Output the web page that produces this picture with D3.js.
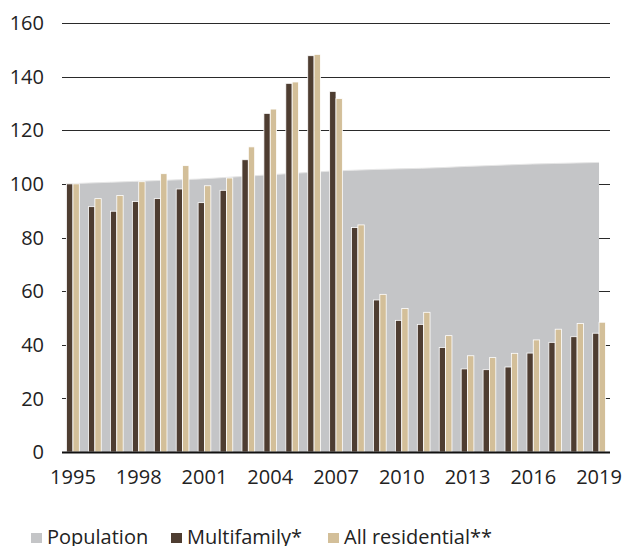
<!DOCTYPE html>
<html>
<head>
<meta charset="utf-8">
<script src="https://cdn.jsdelivr.net/npm/d3@7"></script>
<style>
  html, body { margin: 0; padding: 0; background: #fff; }
  svg { display: block; }
  text { font-family: "Open Sans", "Noto Sans", sans-serif; fill: #222; }
</style>
</head>
<body>
<svg id="chart" width="625" height="546"></svg>
<script>
const years = [1995,1996,1997,1998,1999,2000,2001,2002,2003,2004,2005,2006,2007,2008,2009,2010,2011,2012,2013,2014,2015,2016,2017,2018,2019];
const population = [100,100.3,100.6,100.9,101.2,101.5,101.8,102.3,102.8,103.3,103.8,104.3,104.8,105.1,105.4,105.6,105.8,106.1,106.5,106.8,107.1,107.4,107.6,107.8,108.0];
const multifamily = [100,91.5,89.8,93.4,94.5,98.1,93.0,97.6,109.0,126.3,137.5,147.8,134.5,83.7,56.7,49.1,47.6,39.0,31.0,30.7,31.7,36.9,40.9,43.0,44.3];
const allResidential = [100,94.5,95.7,100.8,103.8,106.8,99.3,102.2,113.8,127.9,138.0,148.3,131.8,84.7,58.8,53.5,52.1,43.4,35.9,35.2,36.8,41.8,45.8,47.9,48.4];
const yTicks = [0,20,40,60,80,100,120,140,160];
const xTickLabels = [1995,1998,2001,2004,2007,2010,2013,2016,2019];
const seriesNames = ["Population","Multifamily*","All residential**"];
const seriesColors = ["#c4c5c7","#4e3d31","#d3bf99"];

(function () {
const svg = d3.select("#chart");
const mLeft = 62, mRight = 610, mTop = 23, mBottom = 452;

const x = d3.scaleBand().domain(years).range([mLeft, mRight]).paddingInner(0).paddingOuter(0);
const bw = x.bandwidth();
const barW = bw * 0.29;
const y = d3.scaleLinear().domain([0, 160]).range([mBottom, mTop]);

// gridlines
svg.append("g").selectAll("line").data(yTicks.filter(d => d > 0)).join("line")
  .attr("x1", mLeft).attr("x2", mRight)
  .attr("y1", d => Math.round(y(d)) + 0.5).attr("y2", d => Math.round(y(d)) + 0.5)
  .attr("stroke", "#2a2a2a").attr("stroke-width", 1.2);

// population area
const ax = d3.scaleLinear().domain([years[0], years[years.length-1]])
  .range([x(years[0]) + bw/2 - 7, x(years[years.length-1]) + bw/2]);
const area = d3.area().x((d,i) => ax(years[i])).y0(y(0)).y1(d => y(d));
const line = d3.line().x((d,i) => ax(years[i])).y(d => y(d));
svg.append("path").datum(population).attr("d", area).attr("fill", seriesColors[0]);
svg.append("path").datum(population).attr("d", line).attr("fill", "none")
  .attr("stroke", "#e6e6e6").attr("stroke-width", 1);

// bars
const gb = svg.append("g");
gb.selectAll("rect.mf").data(multifamily).join("rect").attr("class","mf")
  .attr("x", (d,i) => x(years[i]) + bw/2 - barW)
  .attr("width", barW)
  .attr("y", d => y(d)).attr("height", d => y(0) - y(d))
  .attr("fill", seriesColors[1]).attr("stroke", "#fff").attr("stroke-width", 0.8);
gb.selectAll("rect.ar").data(allResidential).join("rect").attr("class","ar")
  .attr("x", (d,i) => x(years[i]) + bw/2)
  .attr("width", barW)
  .attr("y", d => y(d)).attr("height", d => y(0) - y(d))
  .attr("fill", seriesColors[2]).attr("stroke", "#fff").attr("stroke-width", 0.8);

// baseline
svg.append("line").attr("x1", mLeft).attr("x2", mRight)
  .attr("y1", y(0) + 0.5).attr("y2", y(0) + 0.5)
  .attr("stroke", "#111").attr("stroke-width", 2.2);

// y labels
svg.append("g").selectAll("text").data(yTicks).join("text")
  .attr("x", 44).attr("y", d => y(d)).attr("dy", "0.36em")
  .attr("text-anchor", "end").attr("font-size", 20)
  .text(d => d);

// x labels
svg.append("g").selectAll("text").data(xTickLabels).join("text")
  .attr("x", d => x(d) + bw/2).attr("y", 484)
  .attr("text-anchor", "middle").attr("font-size", 20)
  .text(d => d);

// legend
const legX = [31, 171, 328];
const lg = svg.append("g");
seriesNames.forEach((n, i) => {
  lg.append("rect").attr("x", legX[i]).attr("y", 533).attr("width", 11).attr("height", 10)
    .attr("fill", seriesColors[i]);
  lg.append("text").attr("x", legX[i] + 16).attr("y", 544).attr("font-size", 20).text(n);
});
})();
</script>
</body>
</html>
